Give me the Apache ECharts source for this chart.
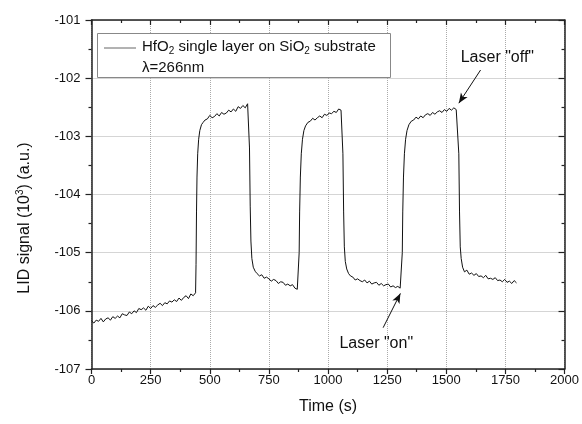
<!DOCTYPE html>
<html><head><meta charset="utf-8">
<script src="https://cdn.jsdelivr.net/npm/echarts@6/dist/echarts.min.js"></script>
<style>html,body{margin:0;padding:0;background:#fff}#c{width:582px;height:424px}</style>
</head><body><div id="c"></div>
<script>
// Time (s)
const times = [
0,10,20,30,40,50,60,70,80,90,100,110,120,130,140,150,160,170,180,190,200,210,220,230,240,250,260,270,280,290,300,310,320,330,340,350,360,370,380,390,400,410,420,430,440,
442,444,446,449,453,458,465,472,480,
490,500,510,520,530,540,550,560,570,580,590,600,610,620,630,640,650,660,665,
668,671,674,678,684,692,700,
710,720,730,740,750,760,770,780,790,800,810,820,830,840,850,860,870,876,
878,880,883,887,892,898,905,915,
925,935,945,955,965,975,985,995,1005,1015,1025,1035,1045,1055,1060,
1063,1066,1069,1073,1079,1087,1095,
1105,1115,1125,1135,1145,1155,1165,1175,1185,1195,1205,1215,1225,1235,1245,1255,1265,1275,1285,1295,1305,1312,
1314,1316,1319,1323,1328,1334,1342,1352,
1362,1372,1382,1392,1402,1412,1422,1432,1442,1452,1462,1472,1482,1492,1502,1512,1522,1532,1542,1550,
1553,1556,1559,1563,1569,1577,
1587,1597,1607,1617,1627,1637,1647,1657,1667,1677,1687,1697,1707,1717,1727,1737,1747,1757,1767,1777,1787,1797
];
// LID signal (10^3 a.u.)
const signal = [
-106.17,-106.21,-106.16,-106.18,-106.13,-106.19,-106.14,-106.12,-106.16,-106.10,-106.13,-106.09,-106.12,-106.05,-106.07,-106.08,-106.02,-106.05,-106.00,-106.03,-105.96,-105.98,-105.95,-105.99,-105.92,-105.96,-105.91,-105.94,-105.90,-105.87,-105.91,-105.86,-105.88,-105.83,-105.85,-105.81,-105.84,-105.78,-105.82,-105.77,-105.74,-105.79,-105.71,-105.74,-105.69,
-105.20,-104.30,-103.70,-103.30,-103.05,-102.90,-102.80,-102.76,-102.72,
-102.70,-102.64,-102.68,-102.66,-102.61,-102.65,-102.59,-102.62,-102.60,-102.55,-102.58,-102.53,-102.57,-102.49,-102.52,-102.47,-102.51,-102.44,-102.46,
-103.20,-104.20,-104.80,-105.10,-105.25,-105.32,-105.36,
-105.40,-105.38,-105.44,-105.42,-105.45,-105.49,-105.46,-105.48,-105.53,-105.50,-105.51,-105.56,-105.54,-105.57,-105.55,-105.61,-105.63,-105.66,
-105.00,-104.30,-103.70,-103.30,-103.05,-102.90,-102.82,-102.76,
-102.74,-102.69,-102.72,-102.68,-102.65,-102.68,-102.62,-102.64,-102.60,-102.61,-102.57,-102.59,-102.53,-102.55,-102.53,
-103.30,-104.30,-104.90,-105.15,-105.28,-105.36,-105.40,
-105.42,-105.47,-105.45,-105.48,-105.50,-105.47,-105.52,-105.49,-105.54,-105.52,-105.51,-105.56,-105.53,-105.57,-105.55,-105.54,-105.59,-105.57,-105.60,-105.58,-105.61,-105.62,
-105.00,-104.30,-103.70,-103.30,-103.05,-102.90,-102.80,-102.74,
-102.72,-102.67,-102.70,-102.65,-102.68,-102.63,-102.61,-102.64,-102.59,-102.62,-102.58,-102.56,-102.59,-102.54,-102.57,-102.52,-102.55,-102.51,-102.54,-102.52,
-103.30,-104.30,-104.90,-105.10,-105.25,-105.33,
-105.30,-105.37,-105.35,-105.39,-105.36,-105.41,-105.40,-105.43,-105.39,-105.45,-105.44,-105.46,-105.43,-105.48,-105.47,-105.50,-105.46,-105.51,-105.49,-105.53,-105.48,-105.52
];
const xTicks = { min: 0, max: 2000, interval: 250 };
const yTicks = { min: -107, max: -101, interval: 1 };
// annotations in data coordinates [time, signal]
const offText = [1716, -101.64];
const offArrow = [[1645, -101.86], [1553, -102.43]];
const onText = [1204, -106.57];
const onArrow = [[1233, -106.29], [1306, -105.70]];

const FONT = 'Liberation Sans, Arial, sans-serif';
const chart = echarts.init(document.getElementById('c'), null, { renderer: 'canvas' });
const axisLineStyle = { color: '#222', width: 1.5 };
const tickStyle = { color: '#222', width: 1.2 };
const option = {
  animation: false,
  backgroundColor: '#fff',
  grid: { left: 91.5, right: 15, top: 20, bottom: 55, containLabel: false },
  xAxis: [{
    type: 'value', position: 'bottom', min: xTicks.min, max: xTicks.max, interval: xTicks.interval,
    axisLine: { show: true, onZero: false, lineStyle: axisLineStyle },
    axisTick: { show: true, length: 5, lineStyle: tickStyle },
    minorTick: { show: true, splitNumber: 2, length: 3, lineStyle: tickStyle },
    splitLine: { show: true, lineStyle: { type: 'dotted', color: '#aaa', width: 1 } },
    axisLabel: { fontFamily: FONT, fontSize: 13, color: '#111', margin: 5, formatter: v => String(v) },
    name: 'Time (s)', nameLocation: 'middle', nameGap: 30,
    nameTextStyle: { fontFamily: FONT, fontSize: 16, color: '#111' }
  }, {
    type: 'value', position: 'top', min: xTicks.min, max: xTicks.max, interval: xTicks.interval,
    axisLine: { show: true, onZero: false, lineStyle: axisLineStyle },
    axisTick: { show: true, inside: true, length: 5, lineStyle: tickStyle },
    minorTick: { show: true, splitNumber: 2, length: 3, lineStyle: tickStyle },
    splitLine: { show: false }, axisLabel: { show: false }
  }],
  yAxis: [{
    type: 'value', position: 'left', min: yTicks.min, max: yTicks.max, interval: yTicks.interval,
    axisLine: { show: true, onZero: false, lineStyle: axisLineStyle },
    axisTick: { show: true, length: 6, lineStyle: tickStyle },
    minorTick: { show: true, splitNumber: 2, length: 3, lineStyle: tickStyle },
    splitLine: { show: true, lineStyle: { type: 'dotted', color: '#aaa', width: 1 } },
    axisLabel: { fontFamily: FONT, fontSize: 13, color: '#111', margin: 11, formatter: v => String(v) }
  }, {
    type: 'value', position: 'right', min: yTicks.min, max: yTicks.max, interval: yTicks.interval,
    axisLine: { show: true, onZero: false, lineStyle: axisLineStyle },
    axisTick: { show: true, inside: true, length: 6, lineStyle: tickStyle },
    minorTick: { show: true, splitNumber: 2, length: 3, lineStyle: tickStyle },
    splitLine: { show: false }, axisLabel: { show: false }
  }],
  series: [{
    type: 'line', xAxisIndex: 0, yAxisIndex: 0,
    data: times.map((t, i) => [t, signal[i]]),
    showSymbol: false, symbol: 'none',
    lineStyle: { color: '#111', width: 1 },
    markLine: {
      silent: true, symbol: ['none', 'arrow'], symbolSize: [6, 10],
      lineStyle: { color: '#111', width: 1, type: 'solid' }, label: { show: false },
      data: [
        [{ coord: offArrow[0] }, { coord: offArrow[1] }],
        [{ coord: onArrow[0] }, { coord: onArrow[1] }]
      ]
    }
  }]
};
chart.setOption(option);

const pOff = chart.convertToPixel({ xAxisIndex: 0, yAxisIndex: 0 }, offText);
const pOn = chart.convertToPixel({ xAxisIndex: 0, yAxisIndex: 0 }, onText);
chart.setOption({
  graphic: [
    { type: 'rect', shape: { x: 97.5, y: 33.5, width: 293, height: 44 },
      style: { fill: '#fff', stroke: '#888', lineWidth: 1 }, z: 100 },
    { type: 'line', shape: { x1: 104, y1: 48, x2: 136, y2: 48 },
      style: { stroke: '#666', lineWidth: 1 }, z: 101 },
    { type: 'text', left: 142, top: 37, z: 101,
      style: { text: 'HfO{sub|2} single layer on SiO{sub|2} substrate', fontFamily: FONT, fontSize: 15, fill: '#111', lineHeight: 19,
        rich: { sub: { fontFamily: FONT, fontSize: 10, fill: '#111', verticalAlign: 'bottom', lineHeight: 8 } } } },
    { type: 'text', left: 142, top: 60, z: 101,
      style: { text: 'λ=266nm', fontFamily: FONT, fontSize: 15, fill: '#111' } },
    { type: 'text', x: pOff[0], y: pOff[1], z: 101,
      style: { text: 'Laser "off"', fontFamily: FONT, fontSize: 16, fill: '#111', align: 'center', verticalAlign: 'middle' } },
    { type: 'text', x: pOn[0], y: pOn[1], z: 101,
      style: { text: 'Laser "on"', fontFamily: FONT, fontSize: 16, fill: '#111', align: 'center', verticalAlign: 'middle' } },
    { type: 'text', x: 25, y: 218, rotation: Math.PI / 2, z: 101,
      style: { text: 'LID signal (10{sup|3}) (a.u.)', fontFamily: FONT, fontSize: 16, fill: '#111', lineHeight: 20,
        align: 'center', verticalAlign: 'middle',
        rich: { sup: { fontFamily: FONT, fontSize: 10, fill: '#111', verticalAlign: 'top', lineHeight: 10 } } } }
  ]
});
</script></body></html>
